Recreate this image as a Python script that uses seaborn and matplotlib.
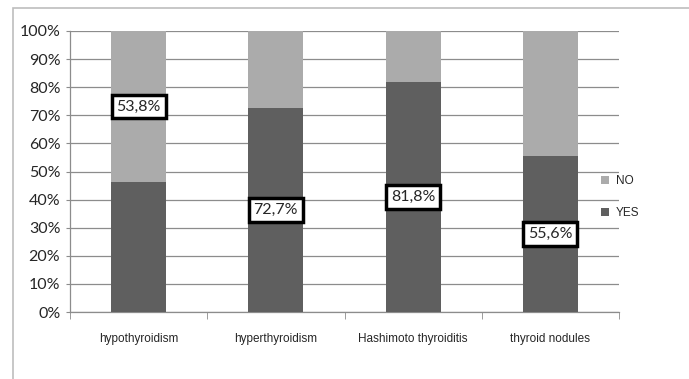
import matplotlib
matplotlib.use('Agg')
import matplotlib.pyplot as plt
import seaborn as sns
import pandas as pd
from matplotlib.patches import Rectangle, Patch

categories = ['hypothyroidism', 'hyperthyroidism', 'Hashimoto thyroiditis', 'thyroid nodules']
yes_pct = [46.2, 72.7, 81.8, 55.6]
no_pct = [53.8, 27.3, 18.2, 44.4]
label_text = ['53,8%', '72,7%', '81,8%', '55,6%']
label_series = ['NO', 'YES', 'YES', 'YES']
y_ticks = list(range(0, 101, 10))

sns.set_style('white')
plt.rcParams['font.family'] = ['Liberation Sans', 'DejaVu Sans']
box_font = ['Lato', 'DejaVu Sans']

df = pd.DataFrame({'category': categories, 'YES': yes_pct, 'NO': no_pct})
df['total'] = df['YES'] + df['NO']

fig = plt.figure(figsize=(6.89, 3.79), dpi=100)
ax = fig.add_axes([70 / 689, 1 - 312 / 379, 549 / 689, 281 / 379])

col_no = '#ababab'
col_yes = '#5f5f5f'
sns.barplot(data=df, x='category', y='total', color=col_no, width=0.4,
            saturation=1, linewidth=0, ax=ax, zorder=3)
sns.barplot(data=df, x='category', y='YES', color=col_yes, width=0.4,
            saturation=1, linewidth=0, ax=ax, zorder=3)

ax.set_ylim(0, 100)
ax.set_xlim(-0.5, len(categories) - 0.5)
ax.set_yticks(y_ticks)
ax.set_yticklabels([f'{t}%' for t in y_ticks], fontsize=11.5, family=box_font)
ax.yaxis.grid(True, color='#8c8c8c', linewidth=0.9, zorder=0)
ax.set_axisbelow(True)
ax.set_xlabel('')
ax.set_ylabel('')
ax.set_xticks(range(len(categories)))
ax.set_xticklabels(categories, fontsize=8.5)
ax.tick_params(axis='x', length=0, pad=15)
ax.tick_params(axis='y', length=3, color='#8c8c8c', direction='out', left=True, pad=4)
# small marks between categories on the x axis
ax.set_xticks([i - 0.5 for i in range(len(categories) + 1)], minor=True)
ax.tick_params(axis='x', which='minor', length=5, color='#8c8c8c', bottom=True, direction='out')
for s in ['top', 'right']:
    ax.spines[s].set_visible(False)
for s in ['left', 'bottom']:
    ax.spines[s].set_color('#8c8c8c')
    ax.spines[s].set_linewidth(0.9)

for i, (txt, ser) in enumerate(zip(label_text, label_series)):
    if ser == 'NO':
        yc = yes_pct[i] + no_pct[i] / 2
    else:
        yc = yes_pct[i] / 2
    ax.text(i, yc, txt, ha='center', va='center', fontsize=11.5,
            family=box_font, zorder=5,
            bbox=dict(boxstyle='square,pad=0.3', facecolor='white',
                      edgecolor='black', linewidth=2.5))

handles = [Patch(facecolor=col_no, edgecolor='none'), Patch(facecolor=col_yes, edgecolor='none')]
fig.legend(handles, ['NO', 'YES'], loc='center left', bbox_to_anchor=(590 / 689, 1 - 197 / 379),
           frameon=False, fontsize=8.5, handlelength=0.7, handleheight=0.7,
           handletextpad=0.6, labelspacing=1.7)

fig.patches.append(Rectangle((13 / 689, -0.1), 1.2, 1 - 8 / 379 + 0.1,
                             transform=fig.transFigure, fill=False,
                             edgecolor='#bdbdbd', linewidth=1.2))

fig.savefig('out.png', dpi=100)
